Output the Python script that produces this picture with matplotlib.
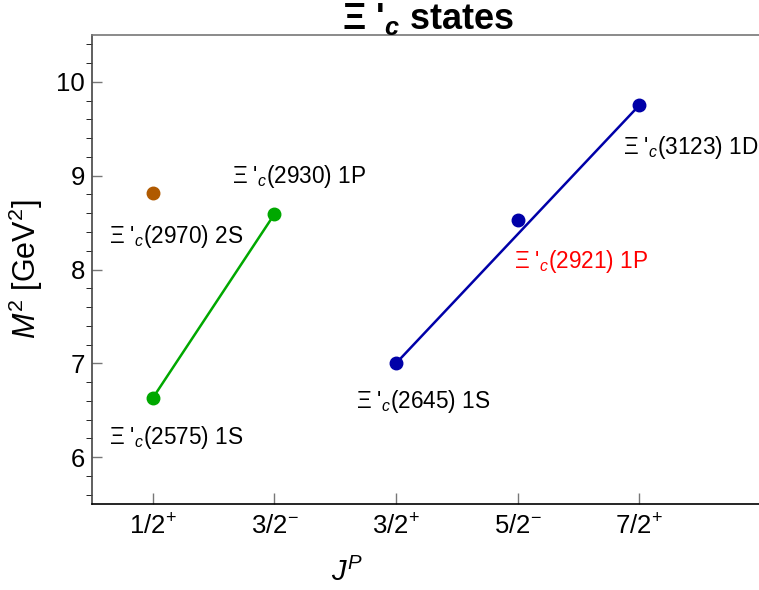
import matplotlib.pyplot as plt

plt.rcParams['font.family'] = ['Liberation Sans', 'DejaVu Sans']
plt.rcParams['mathtext.fontset'] = 'custom'
plt.rcParams['mathtext.rm'] = 'Liberation Sans'
plt.rcParams['mathtext.it'] = 'Liberation Sans:italic'
plt.rcParams['mathtext.bf'] = 'Liberation Sans:bold'
plt.rcParams['mathtext.bfit'] = 'Liberation Sans:bold:italic'

# J^P slots on the x axis
tick_labels = ['1/2$^{+}$', '3/2$^{-}$', '3/2$^{+}$', '5/2$^{-}$', '7/2$^{+}$']
tick_pos = [1, 2, 3, 4, 5]

# M^2 in GeV^2
green_x = [1, 2]
green_m2 = [6.63, 8.59]
brown_x = [1]
brown_m2 = [8.82]
blue_x = [3, 4, 5]
blue_m2 = [7.00, 8.53, 9.75]

names = ["(2575) 1S", "(2930) 1P", "(2970) 2S", "(2645) 1S", "(2921) 1P", "(3123) 1D"]
name_colors = ['black', 'black', 'black', 'black', 'red', 'black']
# text anchor (left, middle) in data coords
name_xy = [(0.64, 6.21), (1.65, 8.99), (0.64, 8.35), (2.67, 6.59), (3.97, 8.09), (4.87, 9.30)]

green = '#00A800'
brown = '#B05A00'
blue = '#0000A8'

fig = plt.figure(figsize=(7.59, 5.90), dpi=100)
ax = fig.add_axes([92 / 759, 86 / 590, 667 / 759, 469 / 590])

ax.plot(green_x, green_m2, color=green, lw=1.8, zorder=2)
ax.plot(green_x, green_m2, 'o', color=green, ms=9, zorder=3)
ax.plot(brown_x, brown_m2, 'o', color=brown, ms=9, zorder=3)
ax.plot([blue_x[0], blue_x[-1]], [blue_m2[0], blue_m2[-1]], color=blue, lw=1.8, zorder=2)
ax.plot(blue_x, blue_m2, 'o', color=blue, ms=9, zorder=3)

for name, c, (tx, ty) in zip(names, name_colors, name_xy):
    ax.text(tx, ty, "Ξ '$_{c}$" + name, color=c, fontsize=16.3, ha='left', va='center')

ax.set_xlim(0.5, 5.985)
ax.set_ylim(5.5, 10.5)
ax.set_xticks(tick_pos)
ax.set_xticklabels(tick_labels, fontsize=18.5)
ax.set_yticks([6, 7, 8, 9, 10])
ax.set_yticks([5.6, 5.8, 6.2, 6.4, 6.6, 6.8, 7.2, 7.4, 7.6, 7.8, 8.2, 8.4, 8.6, 8.8,
               9.2, 9.4, 9.6, 9.8, 10.2, 10.4], minor=True)
ax.tick_params(axis='y', labelsize=18.5)
ax.tick_params(direction='in', color='#777777', width=1)
ax.tick_params(axis='x', length=8, pad=7)
ax.tick_params(axis='y', which='major', length=7, pad=5)
ax.tick_params(axis='y', which='minor', length=4)

ax.spines['right'].set_visible(False)
ax.spines['top'].set_color('#777777')
ax.spines['left'].set_color('#444444')
ax.spines['bottom'].set_color('black')
for s in ax.spines.values():
    s.set_linewidth(1.2)

ax.set_xlabel('$J^{P}$', fontsize=21)
ax.xaxis.set_label_coords((347 - 92) / 667, -0.115)
ax.set_ylabel('$M^{2}$ [GeV$^{2}$]', fontsize=22, labelpad=8)

fig.text(428 / 759, 1 - 29 / 590, "Ξ '$_{\\boldsymbol{c}}$ states", fontsize=26,
         fontweight='bold', ha='center', va='baseline')

fig.savefig('out.png', dpi=100)
